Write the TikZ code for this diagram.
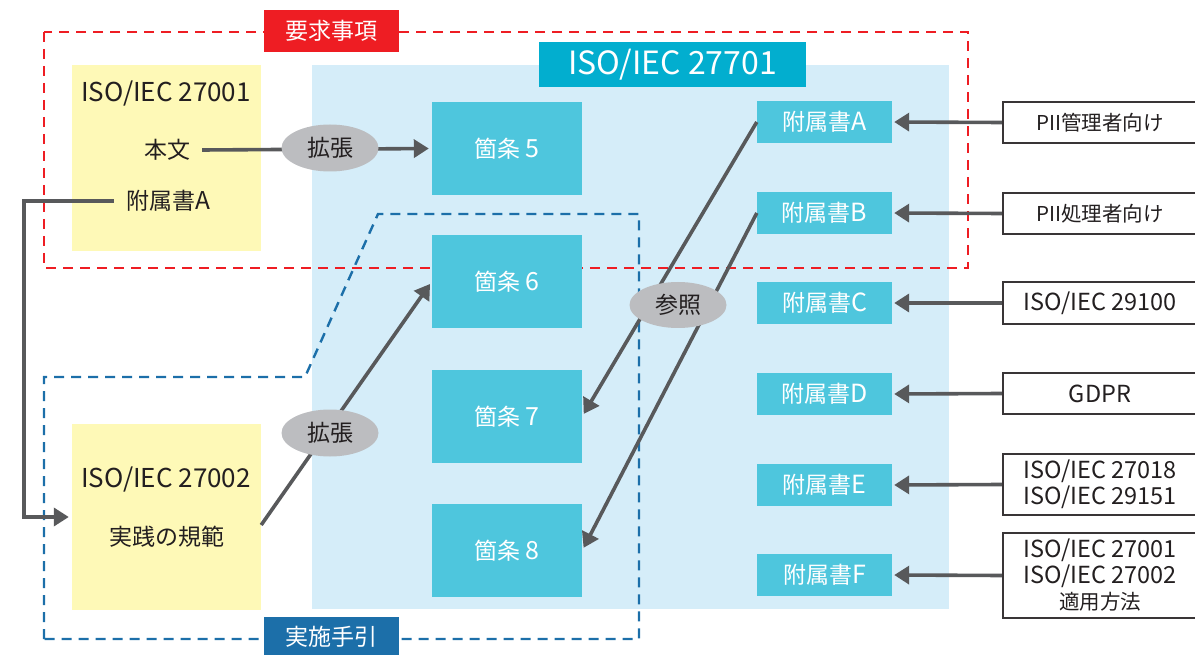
\documentclass[tikz,border=0pt]{standalone}
\usepackage{fontspec}
\setmainfont{Noto Sans CJK JP}
\usetikzlibrary{shapes.geometric,arrows.meta}
\definecolor{redc}{HTML}{EE1D23}
\definecolor{bluec}{HTML}{1C6FA9}
\definecolor{lightbg}{HTML}{D5EDF9}
\definecolor{titlec}{HTML}{02AECF}
\definecolor{clausec}{HTML}{4EC6DD}
\definecolor{yellowc}{HTML}{FEF9B7}
\definecolor{grayell}{HTML}{BCBDC0}
\definecolor{arrowc}{HTML}{58595B}
\definecolor{textc}{HTML}{231F20}
\tikzset{
  box/.style={rectangle, inner sep=0pt, draw=none},
  clausebox/.style={box, fill=clausec, text=white, minimum width=150pt, minimum height=93pt, font=\fontsize{23}{27}\selectfont},
  annexbox/.style={box, fill=clausec, text=white, minimum width=135pt, minimum height=42pt, font=\fontsize{23}{27}\selectfont},
  srcbox/.style={box, draw=textc!90, line width=2.5pt, fill=white, text=textc, minimum width=194pt, align=center, font=\fontsize{20.5}{26}\selectfont},
  latsrc/.style={font=\fontsize{23.5}{26}\selectfont},
  ybox/.style={box, fill=yellowc, minimum width=189pt, minimum height=186pt},
  ytext/.style={inner sep=0pt, text=textc, font=\fontsize{23}{27}\selectfont},
  ylat/.style={ytext, font=\fontsize{26}{30}\selectfont},
  ell/.style={ellipse, fill=grayell, inner sep=0pt, minimum width=97pt, minimum height=47pt, text=textc, font=\fontsize{23}{27}\selectfont},
  arr/.style={draw=arrowc, line width=3.6pt, -{Triangle[length=15pt,width=18pt]}, shorten >=3pt},
  reddash/.style={draw=redc, line width=2.4pt, dash pattern=on 10pt off 7pt},
  bluedash/.style={draw=bluec, line width=2.4pt, dash pattern=on 10pt off 7pt},
  tag/.style={box, text=white, minimum width=135pt, font=\fontsize{23}{27}\selectfont},
}
\begin{document}
\begin{tikzpicture}[x=1pt,y=-1pt]
\useasboundingbox (0,0) rectangle (1195,655);
\clip (0,0) rectangle (1195,655);
% background
\node[box, fill=lightbg, minimum width=637pt, minimum height=544pt] (bg) at (630.5,337) {};
\node[ybox] (y1) at (166.5,158) {};
\node[ybox] (y2) at (166.5,517) {};
% dashed regions
\draw[reddash] (44,32) rectangle (968,268);
\draw[bluedash] (44,639) -- (44,377) -- (305,377) -- (378,214) -- (639,214) -- (639,639) -- cycle;
% texts in yellow boxes
\node[ylat] (t1a) at (166,94) {ISO/IEC 27001};
\node[ytext] (t1b) at (167,150) {本文};
\node[ytext] (t1c) at (168,201) {附属書\fontsize{24.5}{27}\selectfont A};
\node[ylat] (t2a) at (166,480) {ISO/IEC 27002};
\node[ytext] (t2b) at (167,537) {実践の規範};
% clauses
\node[clausebox] (c5) at (507,148.5) {箇条 \fontsize{25}{27}\selectfont 5};
\node[clausebox] (c6) at (507,281.5) {箇条 \fontsize{25}{27}\selectfont 6};
\node[clausebox] (c7) at (507,416.5) {箇条 \fontsize{25}{27}\selectfont 7};
\node[clausebox] (c8) at (507,550.5) {箇条 \fontsize{25}{27}\selectfont 8};
% annexes
\node[annexbox] (aA) at (824.5,122) {附属書\fontsize{25}{27}\selectfont A};
\node[annexbox] (aB) at (824.5,213) {附属書\fontsize{25}{27}\selectfont B};
\node[annexbox] (aC) at (824.5,303) {附属書\fontsize{25}{27}\selectfont C};
\node[annexbox] (aD) at (824.5,394) {附属書\fontsize{25}{27}\selectfont D};
\node[annexbox] (aE) at (824.5,485) {附属書\fontsize{25}{27}\selectfont E};
\node[annexbox] (aF) at (824.5,575) {附属書\fontsize{25}{27}\selectfont F};
% sources
\node[srcbox, minimum height=41pt] (rA) at (1100,122.5) {PII管理者向け};
\node[srcbox, minimum height=41pt] (rB) at (1100,213.5) {PII処理者向け};
\node[srcbox, latsrc, minimum height=42pt] (rC) at (1100,303) {ISO/IEC 29100};
\node[srcbox, latsrc, minimum height=41pt] (rD) at (1100,393.5) {GDPR};
\node[srcbox, latsrc, minimum height=61pt] (rE) at (1100,484.5) {ISO/IEC 27018\\ISO/IEC 29151};
\node[srcbox, latsrc, minimum height=85pt] (rF) at (1100,575.5) {ISO/IEC 27001\\ISO/IEC 27002\\{\fontsize{20.5}{26}\selectfont 適用方法}};
% connectors
\coordinate (bend) at (24,201);
\draw[arr] ([xshift=12pt]t1b.east) -- (c5.west);
\draw[arr] ([xshift=-12pt]t1c.west) -- (bend) |- (y2.west);
\draw[arr] ([yshift=-8pt]y2.east) -- (c6.west);
\draw[arr] (aA.west) -- (c7.east);
\draw[arr] (aB.west) -- (c8.east);
\foreach \s/\t in {rA/aA, rB/aB, rC/aC, rD/aD, rE/aE, rF/aF}
  \draw[arr, shorten >=2pt] (\s.west) -- (\t.east);
% ellipses
\node[ell] (e1) at (330,148) {拡張};
\node[ell] (e2) at (330,433) {拡張};
\node[ell, minimum height=46pt] (e3) at (678,305) {参照};
% titles and tags
\node[box, fill=titlec, text=white, minimum width=267pt, minimum height=45pt, font=\fontsize{32}{34}\selectfont] (title) at (672.5,64.5) {ISO/IEC 27701};
\node[tag, fill=redc, minimum height=42pt] (req) at (331.5,31) {要求事項};
\node[tag, fill=bluec, minimum height=40pt] (impl) at (331.5,637) {実施手引};
\end{tikzpicture}
\end{document}
